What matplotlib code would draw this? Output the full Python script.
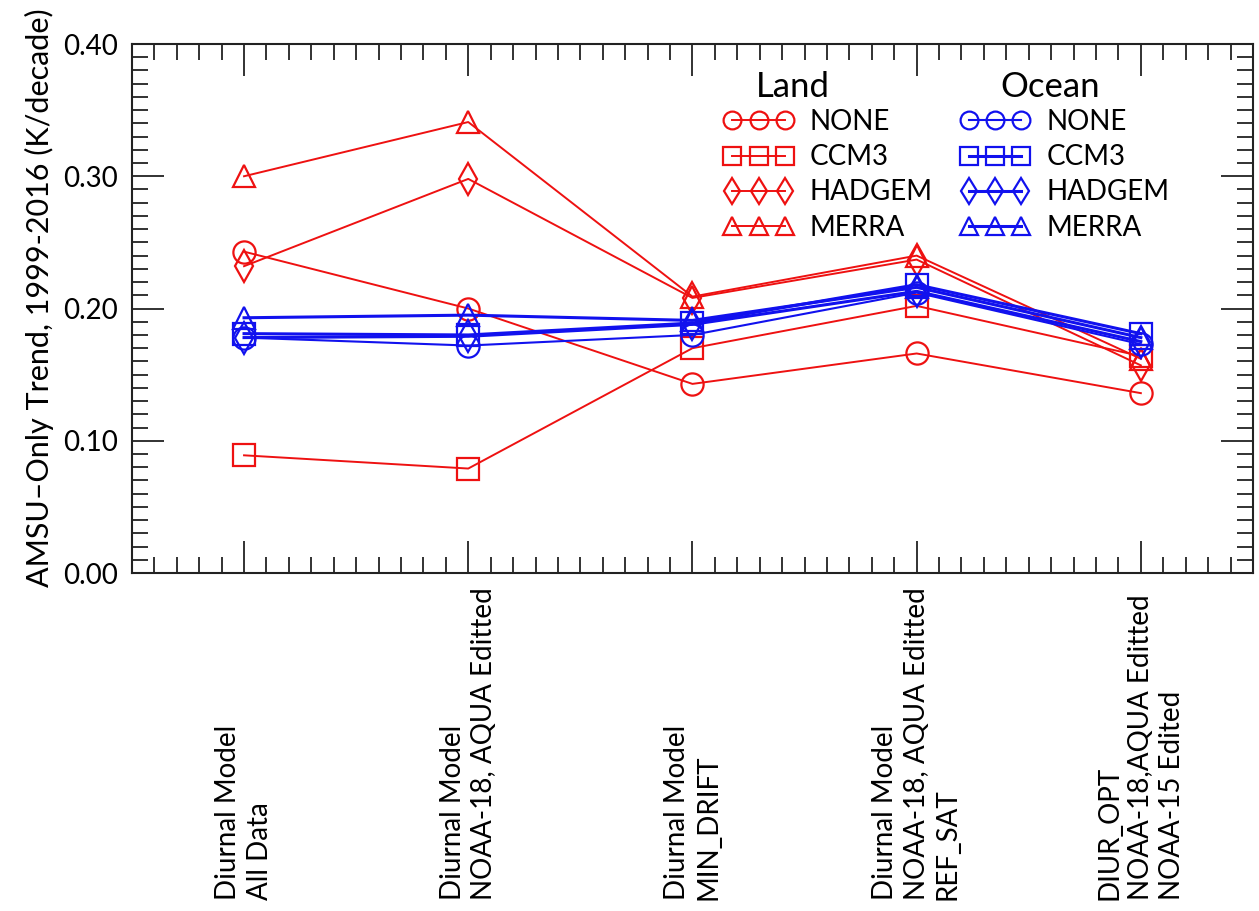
import matplotlib
matplotlib.use('Agg')
import matplotlib.pyplot as plt
from matplotlib.ticker import MultipleLocator, NullFormatter, FormatStrFormatter
from matplotlib.transforms import blended_transform_factory

plt.rcParams['font.family'] = ['Lato', 'DejaVu Sans']

# Processing variants along the x axis
categories = [
    'Diurnal Model\nAll Data',
    'Diurnal Model\nNOAA-18, AQUA Editted',
    'Diurnal Model\nMIN_DRIFT',
    'Diurnal Model\nNOAA-18, AQUA Editted\nREF_SAT',
    'DIUR_OPT\nNOAA-18,AQUA Editted\nNOAA-15 Edited',
]
models = ['NONE', 'CCM3', 'HADGEM', 'MERRA']

# Trends (K/decade) over land
land_none = [0.243, 0.200, 0.143, 0.166, 0.136]
land_ccm3 = [0.089, 0.079, 0.170, 0.202, 0.164]
land_hadgem = [0.232, 0.298, 0.208, 0.237, 0.157]
land_merra = [0.300, 0.341, 0.209, 0.240, 0.162]

# Trends (K/decade) over ocean
ocean_none = [0.178, 0.172, 0.180, 0.212, 0.173]
ocean_ccm3 = [0.181, 0.180, 0.189, 0.218, 0.181]
ocean_hadgem = [0.178, 0.179, 0.188, 0.213, 0.175]
ocean_merra = [0.193, 0.195, 0.191, 0.216, 0.178]

land = [land_none, land_ccm3, land_hadgem, land_merra]
ocean = [ocean_none, ocean_ccm3, ocean_hadgem, ocean_merra]
markers = ['o', 's', 'd', '^']

RED = '#ee1111'
BLUE = '#1111ee'

fig = plt.figure(figsize=(12.59, 9.11), dpi=100)
ax = fig.add_axes([0.1048, 0.371, 0.8904, 0.5807])

x = list(range(len(categories)))

land_handles = []
for vals, m in zip(land, markers):
    h, = ax.plot(x, vals, color=RED, lw=1.4, marker=m, markersize=16,
                 markerfacecolor='none', markeredgecolor=RED, markeredgewidth=1.6)
    land_handles.append(h)

ocean_handles = []
for i, (vals, m) in enumerate(zip(ocean, markers)):
    lw = 1.5 if i == 0 else 2.2
    h, = ax.plot(x, vals, color=BLUE, lw=lw, marker=m, markersize=16,
                 markerfacecolor='none', markeredgecolor=BLUE, markeredgewidth=1.6)
    ocean_handles.append(h)

ax.set_xlim(-0.5, 4.5)
ax.set_ylim(0.0, 0.40)

ax.xaxis.set_major_locator(MultipleLocator(1))
ax.xaxis.set_minor_locator(MultipleLocator(0.1))
ax.xaxis.set_major_formatter(NullFormatter())
ax.yaxis.set_major_locator(MultipleLocator(0.1))
ax.yaxis.set_minor_locator(MultipleLocator(0.01))
ax.yaxis.set_major_formatter(FormatStrFormatter('%.2f'))

ax.tick_params(which='both', direction='in', top=True, right=True, width=1.3, color='#222222')
ax.tick_params(which='major', length=23, pad=10, labelsize=20)
ax.tick_params(which='minor', length=11.5)
for sp in ax.spines.values():
    sp.set_linewidth(1.5)
    sp.set_color('#222222')

ax.set_ylabel('AMSU\u2013Only Trend, 1999-2016 (K/decade)', fontsize=22)
ax.yaxis.set_label_coords(-0.0696, 0.52)

# Category names written vertically below the axis
trans = blended_transform_factory(ax.transData, fig.transFigure)
for xi, name in zip(x, categories):
    ax.text(xi, 0.012, name, transform=trans, rotation=90, ha='center', va='bottom',
            multialignment='left', fontsize=20, linespacing=1.25)

# Two legend columns with their own headings
leg_kw = dict(loc='upper left', frameon=False, numpoints=3, markerscale=0.8,
              handlelength=2.5, handletextpad=0.6, labelspacing=0.33,
              fontsize=20, borderaxespad=0, borderpad=0)
leg1 = ax.legend(land_handles, models, bbox_to_anchor=(0.528, 0.877), **leg_kw)
ax.add_artist(leg1)
leg2 = ax.legend(ocean_handles, models, bbox_to_anchor=(0.739, 0.877), **leg_kw)
ax.text(0.59, 0.919, 'Land', transform=ax.transAxes, ha='center', va='center', fontsize=25)
ax.text(0.819, 0.919, 'Ocean', transform=ax.transAxes, ha='center', va='center', fontsize=25)

fig.savefig('out.png', dpi=100, facecolor='white')
